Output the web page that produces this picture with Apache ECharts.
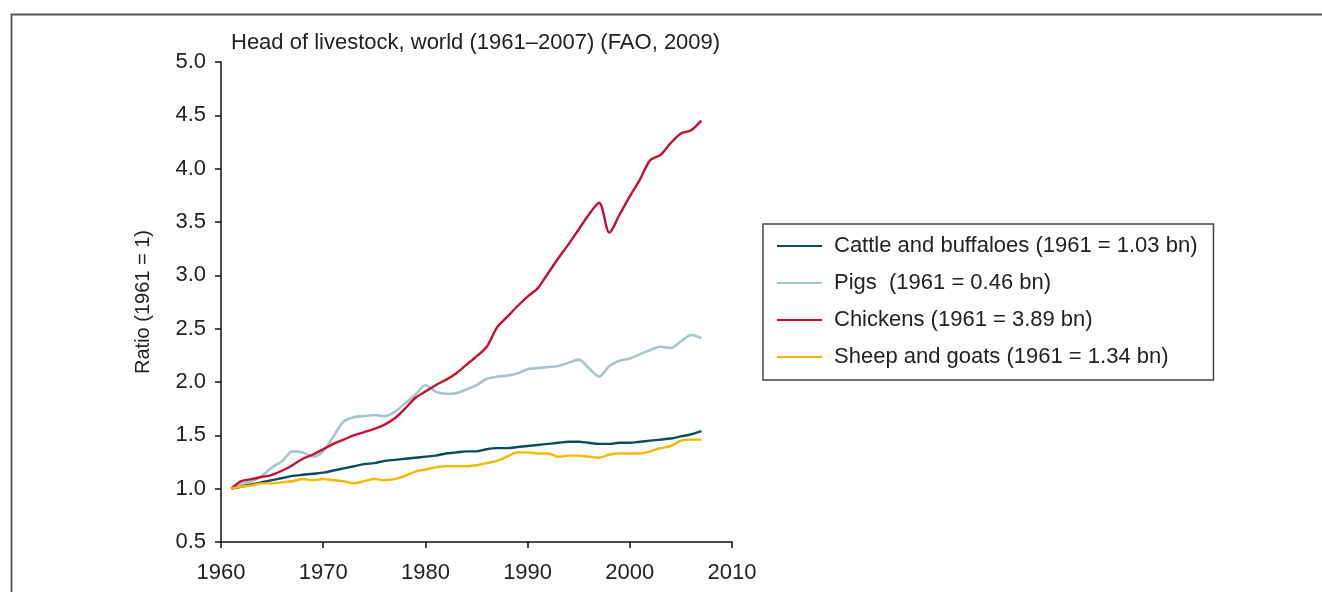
<!DOCTYPE html>
<html>
<head>
<meta charset="utf-8">
<title>Head of livestock, world</title>
<script src="https://cdn.jsdelivr.net/npm/echarts@6/dist/echarts.min.js"></script>
<style>
    html, body { margin: 0; padding: 0; background: #fff; }
    #chart { width: 1322px; height: 592px; }
</style>
</head>
<body>
<div id="chart"></div>
<script>
// years on the x axis, 1961..2007
const years = [
    1961, 1962, 1963, 1964, 1965, 1966, 1967, 1968, 1969, 1970,
    1971, 1972, 1973, 1974, 1975, 1976, 1977, 1978, 1979, 1980,
    1981, 1982, 1983, 1984, 1985, 1986, 1987, 1988, 1989, 1990,
    1991, 1992, 1993, 1994, 1995, 1996, 1997, 1998, 1999, 2000,
    2001, 2002, 2003, 2004, 2005, 2006, 2007
];

// ratio to 1961
const cattle = [
    1.00, 1.02, 1.04, 1.06, 1.08, 1.10, 1.12, 1.13, 1.14, 1.15,
    1.17, 1.19, 1.21, 1.23, 1.24, 1.26, 1.27, 1.28, 1.29, 1.30,
    1.31, 1.33, 1.34, 1.35, 1.35, 1.37, 1.38, 1.38, 1.39, 1.40,
    1.41, 1.42, 1.43, 1.44, 1.44, 1.43, 1.42, 1.42, 1.43, 1.43,
    1.44, 1.45, 1.46, 1.47, 1.49, 1.51, 1.54
];
const pigs = [
    1.00, 1.04, 1.07, 1.12, 1.20, 1.26, 1.35, 1.34, 1.30, 1.35,
    1.49, 1.63, 1.67, 1.68, 1.69, 1.68, 1.72, 1.80, 1.88, 1.97,
    1.91, 1.89, 1.895, 1.93, 1.97, 2.03, 2.05, 2.06, 2.08, 2.12,
    2.13, 2.14, 2.15, 2.18, 2.21, 2.13, 2.05, 2.15, 2.20, 2.22,
    2.26, 2.30, 2.33, 2.32, 2.38, 2.44, 2.41
];
const chickens = [
    1.00, 1.07, 1.09, 1.11, 1.13, 1.17, 1.22, 1.28, 1.32, 1.37,
    1.42, 1.46, 1.50, 1.53, 1.56, 1.60, 1.66, 1.75, 1.85, 1.91,
    1.97, 2.02, 2.08, 2.16, 2.24, 2.33, 2.51, 2.61, 2.71, 2.80,
    2.88, 3.02, 3.16, 3.29, 3.43, 3.57, 3.68, 3.40, 3.57, 3.74,
    3.90, 4.08, 4.13, 4.24, 4.33, 4.36, 4.45
];
const sheep = [
    1.00, 1.02, 1.03, 1.05, 1.05, 1.06, 1.07, 1.09, 1.08, 1.09,
    1.08, 1.07, 1.05, 1.07, 1.09, 1.08, 1.09, 1.12, 1.16, 1.18,
    1.20, 1.21, 1.21, 1.21, 1.22, 1.24, 1.26, 1.30, 1.34, 1.34,
    1.33, 1.33, 1.30, 1.31, 1.31, 1.30, 1.29, 1.32, 1.33, 1.33,
    1.33, 1.35, 1.38, 1.40, 1.45, 1.46, 1.46
];

const seriesNames = [
    'Cattle and buffaloes (1961 = 1.03 bn)',
    'Pigs  (1961 = 0.46 bn)',
    'Chickens (1961 = 3.89 bn)',
    'Sheep and goats (1961 = 1.34 bn)'
];
const seriesColors = ['#0b4d5a', '#a5c5cc', '#c5102f', '#f7b800'];
const seriesValues = [cattle, pigs, chickens, sheep];

const FONT = "'Liberation Sans', Arial, sans-serif";

let pairs = function (vals) {
    return years.map((y, i) => [y, vals[i]]);
};

let chart = echarts.init(document.getElementById('chart'), null, { renderer: 'canvas' });

let option = {
    animation: false,
    backgroundColor: '#fff',
    textStyle: { fontFamily: FONT },
    title: {
        text: 'Head of livestock, world (1961\u20132007) (FAO, 2009)',
        left: 231,
        top: 32,
        padding: 0,
        textStyle: { fontFamily: FONT, fontSize: 22, fontWeight: 'normal', color: '#222' }
    },
    grid: {
        left: 221,
        right: 590,
        top: 62,
        bottom: 50,
        containLabel: false
    },
    legend: {
        orient: 'vertical',
        left: 763,
        top: 224,
        padding: [11, 16, 12, 14],
        icon: 'rect',
        itemWidth: 45,
        itemHeight: 2.2,
        itemGap: 15,
        borderColor: '#444',
        borderWidth: 1.5,
        data: seriesNames,
        textStyle: {
            fontFamily: FONT, fontSize: 22, color: '#222',
            lineHeight: 22, padding: [0, 0, 0, 7]
        }
    },
    xAxis: {
        type: 'value',
        min: 1960,
        max: 2010,
        interval: 10,
        splitLine: { show: false },
        axisLine: { lineStyle: { color: '#111', width: 1.5 } },
        axisTick: { length: 6, lineStyle: { color: '#111', width: 1.5 } },
        axisLabel: {
            fontFamily: FONT, fontSize: 22, color: '#222', margin: 20,
            formatter: v => String(v)
        }
    },
    yAxis: {
        type: 'value',
        min: 0.5,
        max: 5,
        interval: 0.5,
        name: 'Ratio (1961 = 1)',
        nameLocation: 'middle',
        nameGap: 68,
        nameTextStyle: { fontFamily: FONT, fontSize: 20, color: '#222' },
        splitLine: { show: false },
        axisLine: { show: true, lineStyle: { color: '#111', width: 1.5 } },
        axisTick: { show: true, length: 6, lineStyle: { color: '#111', width: 1.5 } },
        axisLabel: {
            fontFamily: FONT, fontSize: 22, color: '#222', margin: 15,
            formatter: v => v.toFixed(1)
        }
    },
    series: seriesNames.map((name, i) => ({
        name: name,
        type: 'line',
        data: pairs(seriesValues[i]),
        symbol: 'none',
        smooth: 0.3,
        color: seriesColors[i],
        lineStyle: { color: seriesColors[i], width: i === 1 ? 2.6 : 2.4 },
        z: i === 1 ? 1 : 2
    })),
    graphic: [
        {
            type: 'polyline',
            shape: { points: [[11.5, 592], [11.5, 14.5], [1322, 14.5]] },
            style: { stroke: '#555', lineWidth: 1.8, fill: null },
            silent: true
        }
    ]
};

chart.setOption(option);
</script>
</body>
</html>
